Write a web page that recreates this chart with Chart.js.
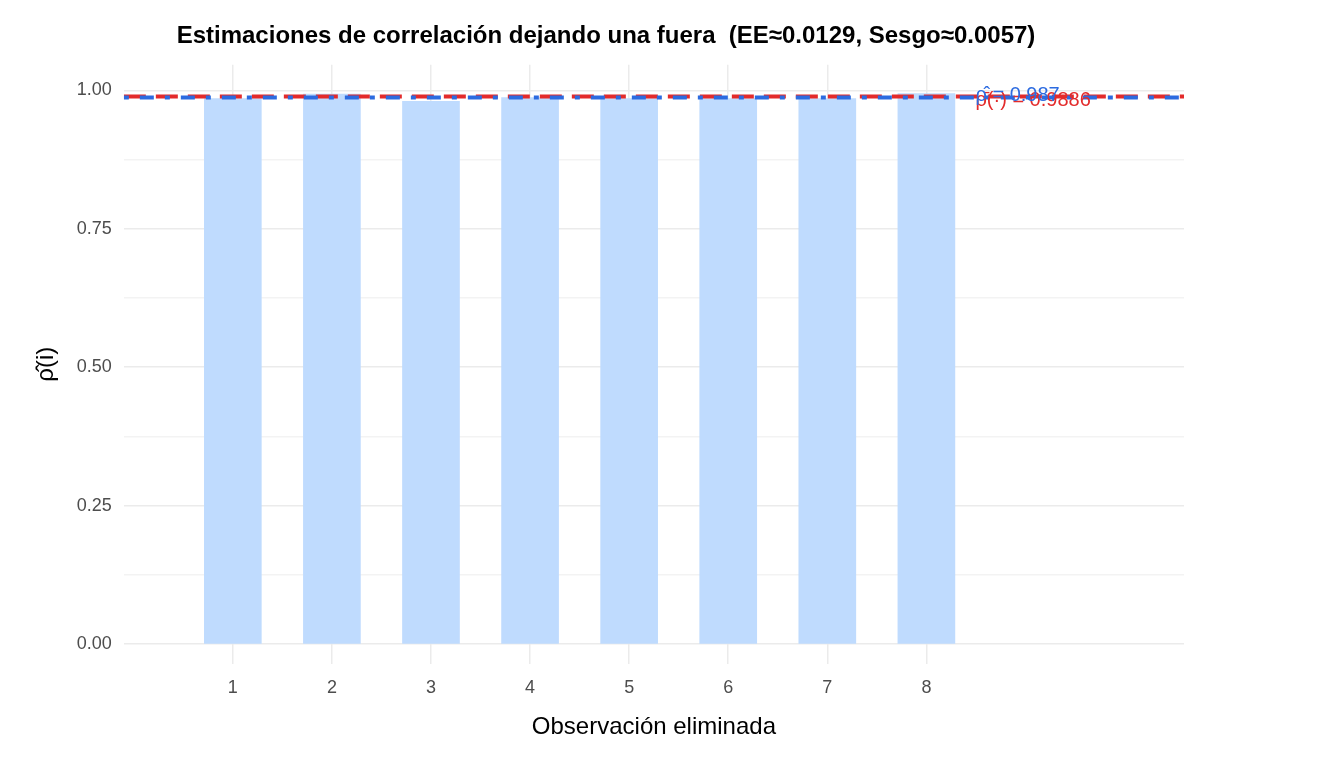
<!DOCTYPE html>
<html>
<head>
<meta charset="utf-8">
<script src="https://cdn.jsdelivr.net/npm/chart.js@4"></script>
<style>
  body { margin: 0; background: #fff; }
  #wrap { width: 1344px; height: 768px; position: relative; }
</style>
</head>
<body>
<div id="wrap"><canvas id="c"></canvas></div>
<script>
// data
const observations = [1, 2, 3, 4, 5, 6, 7, 8];
const jackValues = [0.985, 0.993, 0.980, 0.987, 0.985, 0.985, 0.985, 0.994];
const fullEstimate = 0.987;
const jackMean = 0.9886;
const yTicks = [0, 0.25, 0.5, 0.75, 1.0];
const xMin = -0.1, xMax = 10.6;

const FONT = '"Liberation Sans", Arial, sans-serif';

const labelPlugin = {
    id: 'labels',
    afterDatasetsDraw(chart) {
        const { ctx, scales: { x, y } } = chart;
        ctx.save();
        ctx.font = '20px ' + FONT;
        ctx.textBaseline = 'middle';
        ctx.fillStyle = '#e32b2b';
        ctx.fillText('ρ̄(·) = 0.9886', x.getPixelForValue(9) - 50, y.getPixelForValue(jackMean) + 4);
        ctx.fillStyle = '#2c6be0';
        ctx.fillText('ρ̂ = 0.987', x.getPixelForValue(9) - 50, y.getPixelForValue(fullEstimate) - 2);
        ctx.restore();
    }
};

new Chart(document.getElementById('c'), {
    data: {
        datasets: [
            {
                type: 'bar',
                data: observations.map((o, i) => ({ x: o, y: jackValues[i] })),
                backgroundColor: '#bfdbfe',
                barThickness: 57,
                order: 3
            },
            {
                type: 'line',
                data: [{ x: xMin, y: jackMean }, { x: xMax, y: jackMean }],
                borderColor: '#e32b2b',
                borderWidth: 4,
                borderDash: [22, 10],
                pointRadius: 0,
                order: 2
            },
            {
                type: 'line',
                data: [{ x: xMin, y: fullEstimate }, { x: xMax, y: fullEstimate }],
                borderColor: '#2c6be0',
                borderWidth: 4,
                borderDash: [5, 11, 14, 11],
                pointRadius: 0,
                order: 1
            }
        ]
    },
    plugins: [labelPlugin],
    options: {
        responsive: true,
        maintainAspectRatio: false,
        animation: false,
        layout: { padding: { left: 28, right: 160, top: 8, bottom: 22 } },
        plugins: {
            legend: { display: false },
            tooltip: { enabled: false },
            title: {
                display: true,
                text: 'Estimaciones de correlación dejando una fuera  (EE≈0.0129, Sesgo≈0.0057)',
                font: { size: 24, weight: 'bold', family: FONT },
                color: '#000',
                padding: { top: 14, bottom: 14 }
            }
        },
        scales: {
            x: {
                type: 'linear',
                offset: false,
                min: xMin, max: xMax,
                afterBuildTicks: s => { s.ticks = observations.map(v => ({ value: v })); },
                grid: { color: '#ebebeb', lineWidth: 1.5, drawTicks: false, offset: false },
                border: { display: false },
                ticks: { color: '#4d4d4d', font: { size: 18, family: FONT }, padding: 14 },
                title: { display: true, text: 'Observación eliminada', color: '#000', font: { size: 24, family: FONT }, padding: { top: 0 } }
            },
            y: {
                min: -0.035, max: 1.046,
                afterBuildTicks: s => {
                    const t = [];
                    for (let v = 0; v <= 1.0001; v += 0.125) t.push({ value: v });
                    s.ticks = t;
                },
                grid: {
                    color: c => yTicks.some(v => Math.abs(v - c.tick.value) < 1e-6) ? '#ebebeb' : '#f3f3f3',
                    lineWidth: 1.5, drawTicks: false
                },
                border: { display: false },
                ticks: {
                    color: '#4d4d4d', font: { size: 18, family: FONT }, padding: 12,
                    callback: v => yTicks.some(t => Math.abs(t - v) < 1e-6) ? v.toFixed(2) : ''
                },
                title: { display: true, text: 'ρ̂(i)', color: '#000', font: { size: 24, family: FONT } }
            }
        }
    }
});
</script>
</body>
</html>
